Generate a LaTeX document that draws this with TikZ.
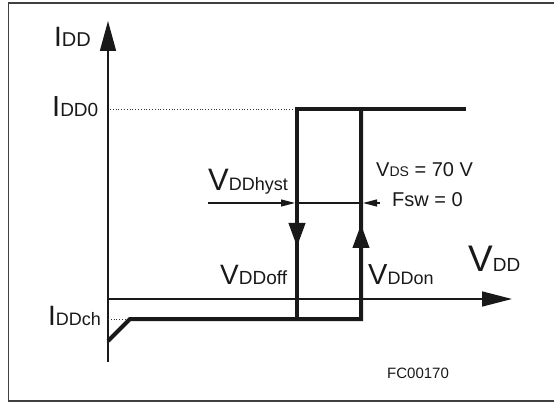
\documentclass[tikz,border=0pt]{standalone}
\usepackage{fontspec}
\setmainfont{Liberation Sans}
\usetikzlibrary{arrows.meta}

% big letter followed by a smaller index on the same baseline
\newcommand{\biglbl}[4]{{\fontsize{#1}{#1}\selectfont #3}{\fontsize{#2}{#2}\selectfont #4}}

\tikzset{
    lbl/.style={anchor=base west,inner sep=0pt,text=black!90},
    axis/.style={line width=1.6pt,black!90},
    curve/.style={line width=4pt,black!90,line join=miter},
    guide/.style={line width=0.8pt,dotted,black!80},
}

\begin{document}
\begin{tikzpicture}[x=1pt,y=-1pt]
        \useasboundingbox (0,0) rectangle (554,403);
        % frame
        \draw[line width=1.5pt,black!75] (554,3) -- (8.5,3) -- (8.5,401) -- (554,401);

        % axes
        \draw[axis,-{Triangle[length=30pt,width=16pt]}] (108,362) -- (108,21);
        \draw[axis,-{Triangle[length=30pt,width=15pt]}] (108,299) -- (512,299);

        % dotted levels
        \draw[guide] (110,109) -- (295,109);
        \draw[guide] (108,319) -- (130,319);

        % hysteresis curve
        \draw[curve] (108,341) -- (130,319) -- (361,319) -- (361,109);
        \draw[curve] (466,109) -- (297,109) -- (297,319);
        \draw[curve,-{Triangle[length=24pt,width=16pt]}] (297,200) -- (297,247);
        \draw[curve,-{Triangle[length=24pt,width=16pt]}] (361,270) -- (361,224);

        % hysteresis width
        \draw[line width=1.1pt,black!90,-{Triangle[length=14pt,width=7pt]}] (208,203) -- (295,203);
        \draw[line width=1.1pt,black!90] (295,203) -- (363,203);
        \draw[line width=1.1pt,black!90,-{Triangle[length=14pt,width=7pt]}] (380,203) -- (363,203);

        % labels
        \node[lbl] (idd) at (54,47) {\biglbl{28}{20}{I}{DD}};
        \node[lbl] (iddzero) at (52,117) {\biglbl{29}{19}{I}{DD0}};
        \node[lbl] (iddch) at (48,325) {\biglbl{28}{18}{I}{DDch}};
        \node[lbl] (vddhyst) at (208,191) {\biglbl{31}{18}{V}{DDhyst}};
        \node[lbl] (vddoff) at (220,284) {\biglbl{28}{19}{V}{DDoff}};
        \node[lbl] (vddon) at (368,284) {\biglbl{29}{18}{V}{DDon}};
        \node[lbl] (vdd) at (468,272) {\biglbl{37}{19}{V}{DD}};
        \node[lbl] (vds) at (376,177) {\biglbl{20}{14}{V}{DS}\fontsize{20}{20}\selectfont{} = 70 V};
        \node[lbl] (fsw) at (392,207) {\fontsize{20}{20}\selectfont Fsw = 0};
        \node[lbl] (code) at (387,378) {\fontsize{15}{15}\selectfont FC00170};
\end{tikzpicture}
\end{document}
